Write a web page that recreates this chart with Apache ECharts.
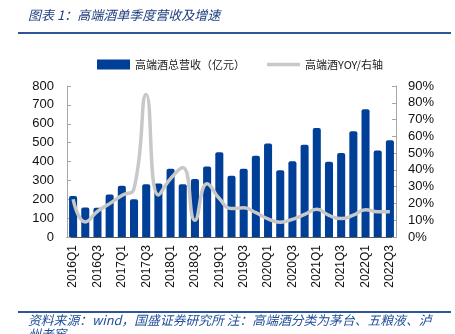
<!DOCTYPE html>
<html><head><meta charset="utf-8">
<script src="https://cdn.jsdelivr.net/npm/echarts@6/dist/echarts.min.js"></script>
<style>html,body{margin:0;padding:0;background:#fff}#c{width:455px;height:334px}</style>
</head><body><div id="c"></div>
<script>
const categories = ['2016Q1','2016Q2','2016Q3','2016Q4','2017Q1','2017Q2','2017Q3','2017Q4','2018Q1','2018Q2','2018Q3','2018Q4','2019Q1','2019Q2','2019Q3','2019Q4','2020Q1','2020Q2','2020Q3','2020Q4','2021Q1','2021Q2','2021Q3','2021Q4','2022Q1','2022Q2','2022Q3'];
const revenue = [217,156,155,225,272,200,279,283,362,279,307,373,449,325,362,431,495,353,401,489,578,399,445,560,677,458,512];
const yoy = [22.5,9,15.3,19.9,24.8,28.8,85,25,34.8,41.4,10,31.8,22.9,17,17.4,14.5,10.8,8.8,10.5,13.5,16.5,12.9,11,13,16.3,15,15];
const leftTicks = {min:0,max:800,interval:100};
const rightTicks = {min:0,max:90,interval:10};
const titleText = '图表 1：高端酒单季度营收及增速';
const sourceText1 = '资料来源：wind，国盛证券研究所 注：高端酒分类为茅台、五粮液、泸';
const sourceText2 = '州老窖';
const seriesNames = ['高端酒总营收（亿元）','高端酒YOY/右轴'];

const chart = echarts.init(document.getElementById('c'));
const cjk = '"Noto Sans CJK SC", sans-serif';
const num = '"Liberation Sans", Arial, sans-serif';
chart.setOption({
  animation:false,
  grid:{left:67,right:59,top:86,bottom:97},
  legend:{
    left:92, top:54, itemGap:22, itemWidth:33, itemHeight:10,
    textStyle:{fontFamily:cjk,fontSize:11,color:'#222'},
    data:[
      {name:seriesNames[0],icon:'rect'},
      {name:seriesNames[1],icon:'path://M0,3.2H33V6.8H0Z M0,0H0.01V10H0Z'}
    ]
  },
  xAxis:{
    type:'category', data:categories, boundaryGap:true,
    axisLine:{lineStyle:{color:'#595959',width:1}},
    axisTick:{inside:true,interval:1,length:4,lineStyle:{color:'#595959'}},
    axisLabel:{interval:1,rotate:90,margin:8,fontFamily:num,fontSize:12,color:'#111'}
  },
  yAxis:[{
    type:'value', min:leftTicks.min, max:leftTicks.max, interval:leftTicks.interval,
    splitLine:{show:false},
    axisLine:{show:true,lineStyle:{color:'#a6a6a6'}},
    axisTick:{show:true,inside:true,length:4,lineStyle:{color:'#a6a6a6'}},
    axisLabel:{margin:13,fontFamily:num,fontSize:13,color:'#111'}
  },{
    type:'value', min:rightTicks.min, max:rightTicks.max, interval:rightTicks.interval,
    splitLine:{show:false},
    axisLine:{show:true,lineStyle:{color:'#a6a6a6'}},
    axisTick:{show:true,inside:true,length:4,lineStyle:{color:'#a6a6a6'}},
    axisLabel:{margin:12,fontFamily:num,fontSize:13,color:'#111',formatter:'{value}%'}
  }],
  series:[{
    name:seriesNames[0], type:'bar', data:revenue, barWidth:'66%',
    itemStyle:{color:'#003f98',borderRadius:[2,2,0,0]}
  },{
    name:seriesNames[1], type:'line', yAxisIndex:1, data:yoy, smooth:0.5,
    showSymbol:false, symbol:'none',
    lineStyle:{color:'#c8c8c8',width:3.5}, itemStyle:{color:'#c8c8c8'}
  }],
  graphic:[
    {type:'text',left:28,top:9,style:{text:titleText,font:'italic 13px '+cjk,fill:'#1f3f80'}},
    {type:'rect',shape:{x:18,y:32,width:433,height:2},style:{fill:'#2e5597'}},
    {type:'rect',shape:{x:18,y:311,width:433,height:2},style:{fill:'#2e5597'}},
    {type:'text',left:28,top:314,style:{text:sourceText1,font:'italic 12.8px '+cjk,fill:'#1f4e99'}},
    {type:'text',left:28,top:328,style:{text:sourceText2,font:'italic 12.8px '+cjk,fill:'#1f4e99'}}
  ]
});
</script></body></html>
